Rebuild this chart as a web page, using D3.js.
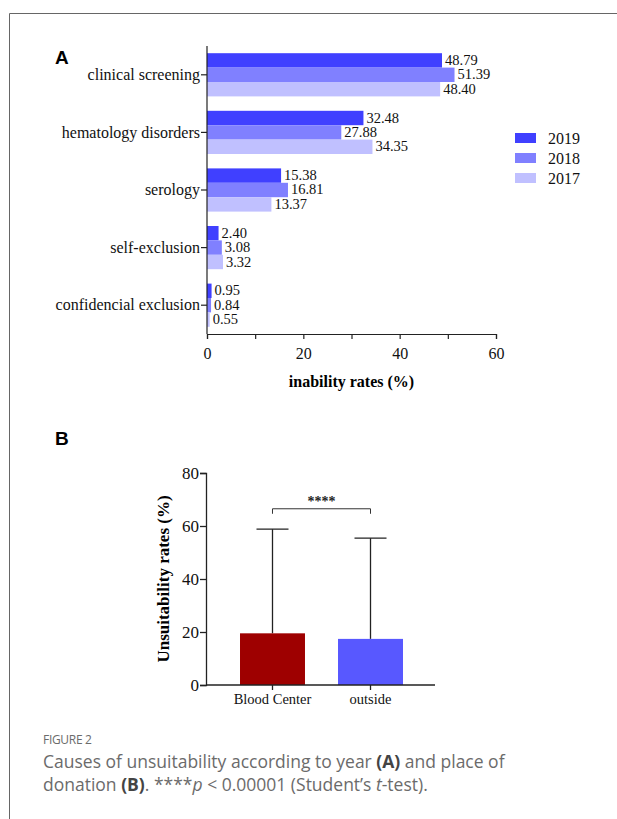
<!DOCTYPE html>
<html>
<head>
<meta charset="utf-8">
<script src="https://cdn.jsdelivr.net/npm/d3@7"></script>
<style>
  body { margin: 0; background: #fff; }
  svg { display: block; }
</style>
</head>
<body>
<svg width="617" height="819"></svg>
<script>
// Panel A data
var causes = ["clinical screening", "hematology disorders", "serology", "self-exclusion", "confidencial exclusion"];
var years = ["2019", "2018", "2017"];
var rates2019 = [48.79, 32.48, 15.38, 2.40, 0.95];
var rates2018 = [51.39, 27.88, 16.81, 3.08, 0.84];
var rates2017 = [48.40, 34.35, 13.37, 3.32, 0.55];
var xTicksA = [0, 20, 40, 60];

// Panel B data
var places = ["Blood Center", "outside"];
var meanRates = [19.5, 17.4];
var upperSD = [58.8, 55.4];
var yTicksB = [0, 20, 40, 60, 80];

var yearColors = ["#4040ff", "#8080ff", "#c0c0ff"];
var placeColors = ["#9e0000", "#5858ff"];
var serif = "'Liberation Serif', 'Times New Roman', serif";

var svg = d3.select("svg");

// frame around the figure
svg.append("path")
    .attr("d", "M9.5,819 V13.5 H617")
    .attr("fill", "none")
    .attr("stroke", "#666")
    .attr("stroke-width", 1);

// ---------- Panel A ----------
var seriesA = [rates2019, rates2018, rates2017];

var xA = d3.scaleLinear().domain([0, 60]).range([207, 496]);
var yA = d3.scaleBand().domain(causes).range([46, 334])
    .paddingInner(0.25).paddingOuter(0.125);
var yInner = d3.scaleBand().domain(years).range([0, yA.bandwidth()]);

svg.append("text")
    .attr("x", 55).attr("y", 64)
    .style("font-family", "Arial, 'Liberation Sans', sans-serif")
    .style("font-weight", "bold")
    .style("font-size", "19px")
    .text("A");

var groups = svg.append("g").selectAll("g")
    .data(causes)
    .enter().append("g")
    .attr("transform", d => "translate(0," + yA(d) + ")");

years.forEach((yr, k) => {
    groups.append("rect")
        .attr("x", xA(0))
        .attr("y", yInner(yr))
        .attr("width", (d, i) => xA(seriesA[k][i]) - xA(0))
        .attr("height", yInner.bandwidth())
        .attr("fill", yearColors[k]);

    groups.append("text")
        .attr("x", (d, i) => xA(seriesA[k][i]) + 3)
        .attr("y", yInner(yr) + yInner.bandwidth() / 2 + 4.5)
        .style("font-family", serif)
        .style("font-size", "14.5px")
        .style("fill", "#111")
        .text((d, i) => seriesA[k][i].toFixed(2));
});

var axisLeftA = svg.append("g")
    .attr("transform", "translate(" + xA(0) + ",0)")
    .call(d3.axisLeft(yA).tickSizeOuter(0).tickSize(6).tickPadding(1));
axisLeftA.select(".domain").attr("d", "M0,46V334");

var axisBottomA = svg.append("g")
    .attr("transform", "translate(0,334)")
    .call(d3.axisBottom(xA).tickValues(d3.range(0, 61, 10)).tickSizeOuter(0).tickSize(5)
        .tickFormat(d => xTicksA.includes(d) ? d : ""));
axisBottomA.selectAll(".tick text").attr("dy", "1.05em");

axisLeftA.selectAll("text")
    .style("font-family", serif)
    .style("font-size", "16px")
    .style("fill", "#111");
axisBottomA.selectAll("text")
    .style("font-family", serif)
    .style("font-size", "16px")
    .style("fill", "#111");
[axisLeftA, axisBottomA].forEach(ax => {
    ax.selectAll("line, path").attr("stroke", "#222").attr("stroke-width", 1.2);
});

svg.append("text")
    .attr("x", xA(30)).attr("y", 387)
    .attr("text-anchor", "middle")
    .style("font-family", serif)
    .style("font-weight", "bold")
    .style("font-size", "16px")
    .text("inability rates (%)");

// legend
var legend = svg.append("g").selectAll("g")
    .data(years)
    .enter().append("g")
    .attr("transform", (d, i) => "translate(515," + (133 + i * 20) + ")");
legend.append("rect")
    .attr("width", 21).attr("height", 10)
    .attr("fill", (d, i) => yearColors[i]);
legend.append("text")
    .attr("x", 33).attr("y", 11)
    .style("font-family", serif)
    .style("font-size", "16px")
    .style("fill", "#111")
    .text(d => d);

// ---------- Panel B ----------
svg.append("text")
    .attr("x", 55).attr("y", 445)
    .style("font-family", "Arial, 'Liberation Sans', sans-serif")
    .style("font-weight", "bold")
    .style("font-size", "19px")
    .text("B");

var yB = d3.scaleLinear().domain([0, 80]).range([685, 473]);
var xB = d3.scaleBand().domain(places).range([206, 437])
    .paddingInner(0.337).paddingOuter(0.347);

var barsB = svg.append("g").selectAll("g")
    .data(places)
    .enter().append("g");

// error bars (upper only)
barsB.append("line")
    .attr("x1", d => xB(d) + xB.bandwidth() / 2)
    .attr("x2", d => xB(d) + xB.bandwidth() / 2)
    .attr("y1", (d, i) => yB(meanRates[i]))
    .attr("y2", (d, i) => yB(upperSD[i]))
    .attr("stroke", "#222").attr("stroke-width", 1.3);
barsB.append("line")
    .attr("x1", d => xB(d) + xB.bandwidth() / 2 - 16)
    .attr("x2", d => xB(d) + xB.bandwidth() / 2 + 16)
    .attr("y1", (d, i) => yB(upperSD[i]))
    .attr("y2", (d, i) => yB(upperSD[i]))
    .attr("stroke", "#222").attr("stroke-width", 1.3);

barsB.append("rect")
    .attr("x", d => xB(d))
    .attr("y", (d, i) => yB(meanRates[i]))
    .attr("width", xB.bandwidth())
    .attr("height", (d, i) => yB(0) - yB(meanRates[i]))
    .attr("fill", (d, i) => placeColors[i]);

// significance bracket
var c0 = xB(places[0]) + xB.bandwidth() / 2;
var c1 = xB(places[1]) + xB.bandwidth() / 2;
svg.append("path")
    .attr("d", "M" + c0 + "," + (yB(66.5) + 5) + "V" + yB(66.5) + "H" + c1 + "V" + (yB(66.5) + 5))
    .attr("fill", "none")
    .attr("stroke", "#333").attr("stroke-width", 1);
svg.append("text")
    .attr("x", (c0 + c1) / 2).attr("y", yB(66.5) - 3)
    .attr("text-anchor", "middle")
    .style("font-family", serif)
    .style("font-weight", "bold")
    .style("font-size", "14px")
    .style("fill", "#222")
    .text("****");

var axisLeftB = svg.append("g")
    .attr("transform", "translate(206,0)")
    .call(d3.axisLeft(yB).tickValues(yTicksB).tickSizeOuter(0).tickSize(6).tickPadding(1));
var axisBottomB = svg.append("g")
    .attr("transform", "translate(0,685)")
    .call(d3.axisBottom(xB).tickSizeOuter(0).tickSize(5).tickPadding(4));
axisBottomB.select(".domain").attr("d", "M206,0H435");

axisLeftB.selectAll("text")
    .style("font-family", serif).style("font-size", "17px").style("fill", "#111")
    .attr("dy", "0.35em");
axisBottomB.selectAll("text")
    .style("font-family", serif).style("font-size", "14.5px").style("fill", "#111");
[axisLeftB, axisBottomB].forEach(ax => {
    ax.selectAll("line, path").attr("stroke", "#222").attr("stroke-width", 1.3);
});

svg.append("text")
    .attr("transform", "translate(169," + yB(40) + ") rotate(-90)")
    .attr("text-anchor", "middle")
    .style("font-family", serif)
    .style("font-weight", "bold")
    .style("font-size", "17px")
    .text("Unsuitability rates (%)");

// ---------- Caption ----------
var capFont = "'Open Sans', 'Noto Sans', sans-serif";
svg.append("text")
    .attr("x", 43).attr("y", 744)
    .style("font-family", capFont)
    .style("font-size", "12px")
    .style("letter-spacing", "-0.3px")
    .style("fill", "#6b6b6b")
    .text("FIGURE 2");

var line1 = svg.append("text")
    .attr("x", 43).attr("y", 768)
    .style("font-family", capFont)
    .style("font-size", "17.5px")
    .style("fill", "#6b6b6b");
line1.append("tspan").text("Causes of unsuitability according to year ");
line1.append("tspan").style("font-weight", "bold").style("fill", "#444").text("(A)");
line1.append("tspan").text(" and place of");

var line2 = svg.append("text")
    .attr("x", 43).attr("y", 791)
    .style("font-family", capFont)
    .style("font-size", "17.5px")
    .style("fill", "#6b6b6b");
line2.append("tspan").text("donation ");
line2.append("tspan").style("font-weight", "bold").style("fill", "#444").text("(B)");
line2.append("tspan").text(". ****");
line2.append("tspan").style("font-style", "italic").text("p");
line2.append("tspan").text(" < 0.00001 (Student\u2019s ");
line2.append("tspan").style("font-style", "italic").text("t");
line2.append("tspan").text("-test).");
</script>
</body>
</html>
